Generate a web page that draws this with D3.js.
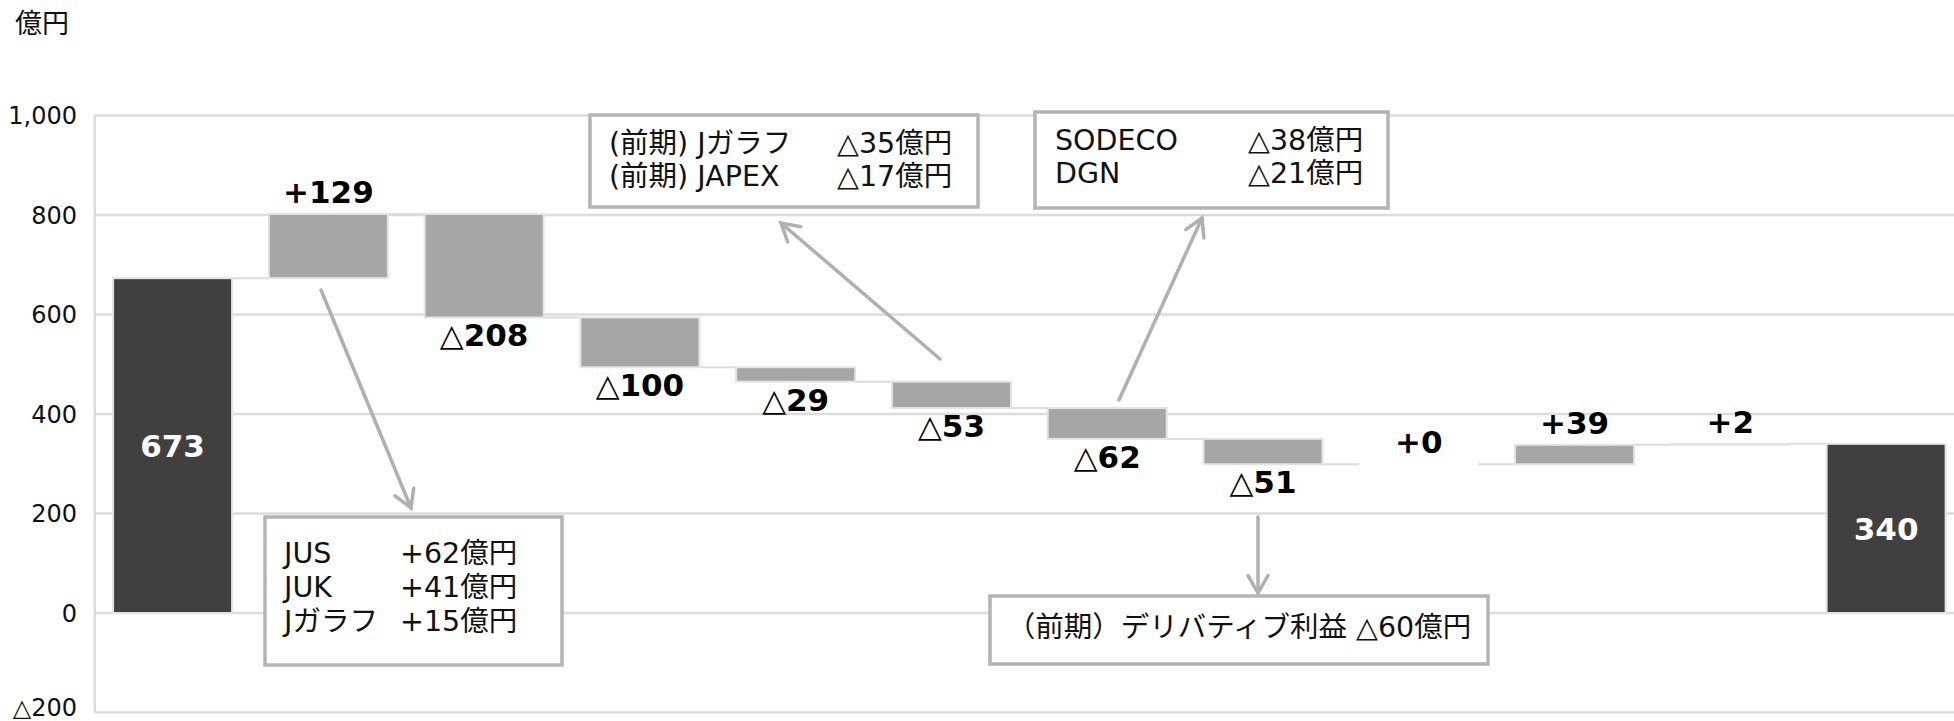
<!DOCTYPE html>
<html>
<head>
<meta charset="utf-8">
<script src="https://cdn.jsdelivr.net/npm/d3@7"></script>
<style>
  body { margin: 0; background: #fff; }
  svg { display: block; font-family: "DejaVu Sans", "Noto Sans CJK JP", sans-serif; }
</style>
</head>
<body>
<svg id="chart" width="1954" height="721"></svg>
<script>
// waterfall values (億円)
const steps = ["s1", "s2", "s3", "s4", "s5", "s6", "s7", "s8", "s9", "s10", "s11", "s12"];
const kinds = ["total", "delta", "delta", "delta", "delta", "delta", "delta", "delta", "delta", "delta", "delta", "total"];
const amounts = [673, 129, -208, -100, -29, -53, -62, -51, 0, 39, 2, 340];
const valueLabels = ["673", "+129", "△208", "△100", "△29", "△53", "△62", "△51", "+0", "+39", "+2", "340"];
const yTicks = [-200, 0, 200, 400, 600, 800, 1000];
const yTickLabels = ["△200", "0", "200", "400", "600", "800", "1,000"];

// call-out boxes
const notes = [
  { box: [265, 517, 297, 148], cols: [284, 400], base: 563, gap: 34,
    rows: [["JUS", "+62億円"], ["JUK", "+41億円"], ["Jガラフ", "+15億円"]] },
  { box: [590, 115, 388, 92], cols: [609, 837], base: 153, gap: 33,
    rows: [["(前期) Jガラフ", "△35億円"], ["(前期) JAPEX", "△17億円"]] },
  { box: [1035, 112, 353, 96], cols: [1055, 1248], base: 150, gap: 33,
    rows: [["SODECO", "△38億円"], ["DGN", "△21億円"]] },
  { box: [990, 596, 498, 68], center: true, base: 637,
    rows: [["（前期）デリバティブ利益 △60億円"]] }
];
const arrows = [
  [[321, 290], [411, 508]],
  [[940, 359], [781, 223]],
  [[1119, 400], [1202, 218]],
  [[1258, 517], [1258, 593]]
];

const svg = d3.select("#chart");
const left = 94.7, right = 1964;

const x = d3.scaleBand().domain(steps).range([left, right])
  .paddingInner(0.236).paddingOuter(0.118);
const y = d3.scaleLinear().domain([-200, 1000]).range([712.5, 115.5]);

// build running totals
let run = 0;
const bars = amounts.map(function(v, i) {
  let lo, hi, end;
  if (kinds[i] === "total") {
    lo = 0; hi = v; run = v; end = v;
  } else {
    const start = run;
    run = run + v;
    lo = Math.min(start, run); hi = Math.max(start, run); end = run;
  }
  return { key: steps[i], kind: kinds[i], v: v, lo: lo, hi: hi, end: end, label: valueLabels[i] };
});

// gridlines
svg.append("g").selectAll("line")
  .data(yTicks)
  .enter()
  .append("line")
  .attr("x1", left).attr("x2", right)
  .attr("y1", d => y(d)).attr("y2", d => y(d))
  .attr("stroke", "#dcdcdc")
  .attr("stroke-width", 2.5);

svg.append("line")
  .attr("x1", left).attr("x2", left)
  .attr("y1", y(1000)).attr("y2", y(-200))
  .attr("stroke", "#dcdcdc")
  .attr("stroke-width", 2.5);

// y tick labels (bottom one nudged up so it stays inside the frame)
svg.append("g").selectAll("text")
  .data(yTicks)
  .enter()
  .append("text")
  .attr("x", 77)
  .attr("y", d => Math.min(y(d) + 8.5, 716))
  .attr("text-anchor", "end")
  .attr("font-size", 24)
  .attr("fill", "#111")
  .text((d, i) => yTickLabels[i]);

svg.append("text")
  .attr("x", 15).attr("y", 33)
  .attr("font-size", 27)
  .attr("fill", "#111")
  .text("億円");

// connectors between bars
svg.append("g").selectAll("line")
  .data(bars.slice(0, -1))
  .enter()
  .append("line")
  .attr("x1", d => x(d.key) + x.bandwidth())
  .attr("x2", (d, i) => x(steps[i + 1]))
  .attr("y1", d => y(d.end)).attr("y2", d => y(d.end))
  .attr("stroke", "#dcdcdc")
  .attr("stroke-width", 2);

// bars
svg.append("g").selectAll("rect")
  .data(bars)
  .enter()
  .append("rect")
  .attr("x", d => x(d.key))
  .attr("width", x.bandwidth())
  .attr("y", d => y(d.hi))
  .attr("height", d => y(d.lo) - y(d.hi))
  .attr("fill", d => d.kind === "total" ? "#404040" : "#a6a6a6")
  .attr("stroke", "#e3e3e3")
  .attr("stroke-width", 2);

// value labels
const lab = svg.append("g").selectAll("text")
  .data(bars)
  .enter()
  .append("text")
  .attr("x", d => x(d.key) + x.bandwidth() / 2)
  .attr("y", function(d) {
    if (d.kind === "total") return (y(d.lo) + y(d.hi)) / 2;
    return d.v >= 0 ? y(d.hi) - 11 : y(d.lo) + 29;
  })
  .attr("dy", d => d.kind === "total" ? "0.36em" : 0)
  .attr("text-anchor", "middle")
  .attr("font-size", 31)
  .attr("font-weight", "bold")
  .attr("fill", d => d.kind === "total" ? "#fff" : "#000");

lab.each(function(d) {
  const t = d3.select(this);
  if (d.label.startsWith("△")) {
    t.append("tspan").attr("font-weight", "normal").text("△");
    t.append("tspan").text(d.label.slice(1));
  } else {
    t.text(d.label);
  }
});

// arrows
const ag = svg.append("g")
  .attr("stroke", "#b0b0b0")
  .attr("stroke-width", 3.5)
  .attr("fill", "none")
  .attr("stroke-linecap", "round");

arrows.forEach(function(a) {
  const [p0, p1] = a;
  const ang = Math.atan2(p1[1] - p0[1], p1[0] - p0[0]);
  const len = 20, spread = Math.PI / 6;
  const w1 = [p1[0] - len * Math.cos(ang - spread), p1[1] - len * Math.sin(ang - spread)];
  const w2 = [p1[0] - len * Math.cos(ang + spread), p1[1] - len * Math.sin(ang + spread)];
  ag.append("path").attr("d", d3.line()([p0, p1]));
  ag.append("path").attr("d", d3.line()([w1, p1, w2]));
});

// note boxes
notes.forEach(function(n) {
  const g = svg.append("g");
  g.append("rect")
    .attr("x", n.box[0]).attr("y", n.box[1])
    .attr("width", n.box[2]).attr("height", n.box[3])
    .attr("fill", "#fff")
    .attr("stroke", "#b4b4b4")
    .attr("stroke-width", 3.5);
  n.rows.forEach(function(r, i) {
    if (n.center) {
      g.append("text")
        .attr("x", n.box[0] + n.box[2] / 2)
        .attr("y", n.base)
        .attr("text-anchor", "middle")
        .attr("font-size", 28.5)
        .attr("fill", "#111")
        .text(r[0]);
    } else {
      r.forEach(function(s, j) {
        g.append("text")
          .attr("x", n.cols[j])
          .attr("y", n.base + i * n.gap)
          .attr("font-size", 28.5)
          .attr("fill", "#111")
          .text(s);
      });
    }
  });
});
</script>
</body>
</html>
